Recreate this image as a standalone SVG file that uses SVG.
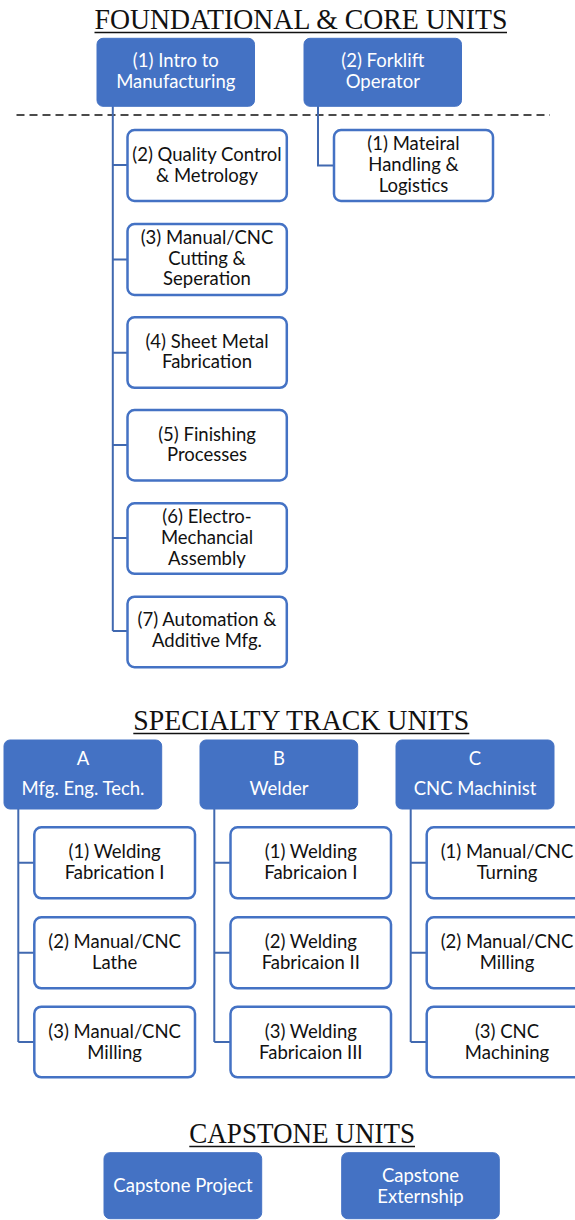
<svg xmlns="http://www.w3.org/2000/svg" width="575" height="1220" viewBox="0 0 575 1220">
<style>
.title{font-family:"Liberation Serif","Times New Roman",serif;font-size:29px;fill:#111}
.ul{stroke:#111;stroke-width:1.6}
.solid{fill:#4472C4;stroke:#4472C4;stroke-width:1}
.outl{fill:#fff;stroke:#4472C4;stroke-width:2.5}
.wt{font-family:Lato,"Open Sans",sans-serif;font-size:18.5px;fill:#fff;text-anchor:middle}
.bt{font-family:Lato,"Open Sans",sans-serif;font-size:18.5px;fill:#111;text-anchor:middle}
.conn{fill:none;stroke:#4169B0;stroke-width:2}
</style>
<rect width="575" height="1220" fill="#fff"/>
<g id="titles">
<text class="title" x="94.5" y="28.5" textLength="413" lengthAdjust="spacingAndGlyphs">FOUNDATIONAL &amp; CORE UNITS</text>
<line class="ul" x1="94.5" y1="32.5" x2="507" y2="32.5"/>
<text class="title" x="133.3" y="730" textLength="336" lengthAdjust="spacingAndGlyphs">SPECIALTY TRACK UNITS</text>
<line class="ul" x1="133.3" y1="733.5" x2="469.3" y2="733.5"/>
<text class="title" x="189.3" y="1143" textLength="225.7" lengthAdjust="spacingAndGlyphs">CAPSTONE UNITS</text>
<line class="ul" x1="189.3" y1="1146.5" x2="415" y2="1146.5"/>
</g>
<line id="divider" x1="16.5" y1="115" x2="550" y2="115" stroke="#111" stroke-width="1.6" stroke-dasharray="8 5"/>
<g id="connectors">
<path class="conn" d="M112.8,106 V631 M112.8,165 H127.5 M112.8,259.5 H127.5 M112.8,352.7 H127.5 M112.8,445 H127.5 M112.8,538 H127.5 M112.8,631 H127.5"/>
<path class="conn" d="M318,106 V165.5 H334"/>
<path class="conn" d="M18.3,809 V1042 M18.3,862.8 H34.3 M18.3,952.8 H34.3 M18.3,1042 H34.3"/>
<path class="conn" d="M214.3,809 V1042 M214.3,862.8 H230.5 M214.3,952.8 H230.5 M214.3,1042 H230.5"/>
<path class="conn" d="M410.7,809 V1042 M410.7,862.8 H426.7 M410.7,952.8 H426.7 M410.7,1042 H426.7"/>
</g>
<g id="n-intro"><rect class="solid" x="97" y="38.3" width="157.5" height="68" rx="6"/>
<text class="wt" x="175.8" y="66.5">(1) Intro to</text><text class="wt" x="175.8" y="88">Manufacturing</text></g>
<g id="n-forklift"><rect class="solid" x="304" y="38.3" width="157.5" height="68" rx="6"/>
<text class="wt" x="382.8" y="66.5">(2) Forklift</text><text class="wt" x="382.8" y="88">Operator</text></g>
<g id="n-material"><rect class="outl" x="334" y="130" width="159" height="71" rx="7"/>
<text class="bt" x="413.5" y="150">(1) Mateiral</text><text class="bt" x="413.5" y="171">Handling &amp;</text><text class="bt" x="413.5" y="192">Logistics</text></g>
<g id="n-quality"><rect class="outl" x="127.5" y="130" width="159.3" height="71" rx="7"/>
<text class="bt" x="207" y="161">(2) Quality Control</text><text class="bt" x="207" y="181.5">&amp; Metrology</text></g>
<g id="n-cutting"><rect class="outl" x="127.5" y="224" width="159.3" height="71" rx="7"/>
<text class="bt" x="207" y="244">(3) Manual/CNC</text><text class="bt" x="207" y="264.5">Cutting &amp;</text><text class="bt" x="207" y="285">Seperation</text></g>
<g id="n-sheet"><rect class="outl" x="127.5" y="317.3" width="159.3" height="70.5" rx="7"/>
<text class="bt" x="207" y="347.5">(4) Sheet Metal</text><text class="bt" x="207" y="368">Fabrication</text></g>
<g id="n-finishing"><rect class="outl" x="127.5" y="410" width="159.3" height="70.5" rx="7"/>
<text class="bt" x="207" y="440.5">(5) Finishing</text><text class="bt" x="207" y="461">Processes</text></g>
<g id="n-electro"><rect class="outl" x="127.5" y="503.3" width="159.3" height="70.5" rx="7"/>
<text class="bt" x="207" y="523">(6) Electro-</text><text class="bt" x="207" y="544">Mechancial</text><text class="bt" x="207" y="565">Assembly</text></g>
<g id="n-automation"><rect class="outl" x="127.5" y="596.7" width="159.3" height="70.5" rx="7"/>
<text class="bt" x="207" y="626">(7) Automation &amp;</text><text class="bt" x="207" y="647">Additive Mfg.</text></g>
<g id="n-A"><rect class="solid" x="4" y="740" width="157.7" height="69" rx="6"/>
<text class="wt" x="83" y="765">A</text><text class="wt" x="83" y="795">Mfg. Eng. Tech.</text></g>
<g id="n-B"><rect class="solid" x="200" y="740" width="157.7" height="69" rx="6"/>
<text class="wt" x="279" y="765">B</text><text class="wt" x="279" y="795">Welder</text></g>
<g id="n-C"><rect class="solid" x="396" y="740" width="158" height="69" rx="6"/>
<text class="wt" x="475" y="765">C</text><text class="wt" x="475" y="795">CNC Machinist</text></g>
<g id="n-A1"><rect class="outl" x="34.3" y="827.3" width="160.7" height="71" rx="7"/>
<text class="bt" x="114.6" y="857.8">(1) Welding</text><text class="bt" x="114.6" y="879.3">Fabrication I</text></g>
<g id="n-A2"><rect class="outl" x="34.3" y="917.3" width="160.7" height="71" rx="7"/>
<text class="bt" x="114.6" y="948">(2) Manual/CNC</text><text class="bt" x="114.6" y="969.3">Lathe</text></g>
<g id="n-A3"><rect class="outl" x="34.3" y="1006.7" width="160.7" height="70.6" rx="7"/>
<text class="bt" x="114.6" y="1037.5">(3) Manual/CNC</text><text class="bt" x="114.6" y="1058.8">Milling</text></g>
<g id="n-B1"><rect class="outl" x="230.5" y="827.3" width="160.5" height="71" rx="7"/>
<text class="bt" x="310.8" y="857.8">(1) Welding</text><text class="bt" x="310.8" y="879.3">Fabricaion I</text></g>
<g id="n-B2"><rect class="outl" x="230.5" y="917.3" width="160.5" height="71" rx="7"/>
<text class="bt" x="310.8" y="948">(2) Welding</text><text class="bt" x="310.8" y="969.3">Fabricaion II</text></g>
<g id="n-B3"><rect class="outl" x="230.5" y="1006.7" width="160.5" height="70.6" rx="7"/>
<text class="bt" x="310.8" y="1037.5">(3) Welding</text><text class="bt" x="310.8" y="1058.8">Fabricaion III</text></g>
<g id="n-C1"><rect class="outl" x="426.7" y="827.3" width="160.5" height="71" rx="7"/>
<text class="bt" x="507" y="857.8">(1) Manual/CNC</text><text class="bt" x="507" y="879.3">Turning</text></g>
<g id="n-C2"><rect class="outl" x="426.7" y="917.3" width="160.5" height="71" rx="7"/>
<text class="bt" x="507" y="948">(2) Manual/CNC</text><text class="bt" x="507" y="969.3">Milling</text></g>
<g id="n-C3"><rect class="outl" x="426.7" y="1006.7" width="160.5" height="70.6" rx="7"/>
<text class="bt" x="507" y="1037.5">(3) CNC</text><text class="bt" x="507" y="1058.8">Machining</text></g>
<g id="n-cap1"><rect class="solid" x="104" y="1152.7" width="157.7" height="66" rx="6"/>
<text class="wt" x="183" y="1192">Capstone Project</text></g>
<g id="n-cap2"><rect class="solid" x="341.7" y="1152.7" width="157.6" height="66" rx="6"/>
<text class="wt" x="420.5" y="1181.7">Capstone</text><text class="wt" x="420.5" y="1203">Externship</text></g>
</svg>
